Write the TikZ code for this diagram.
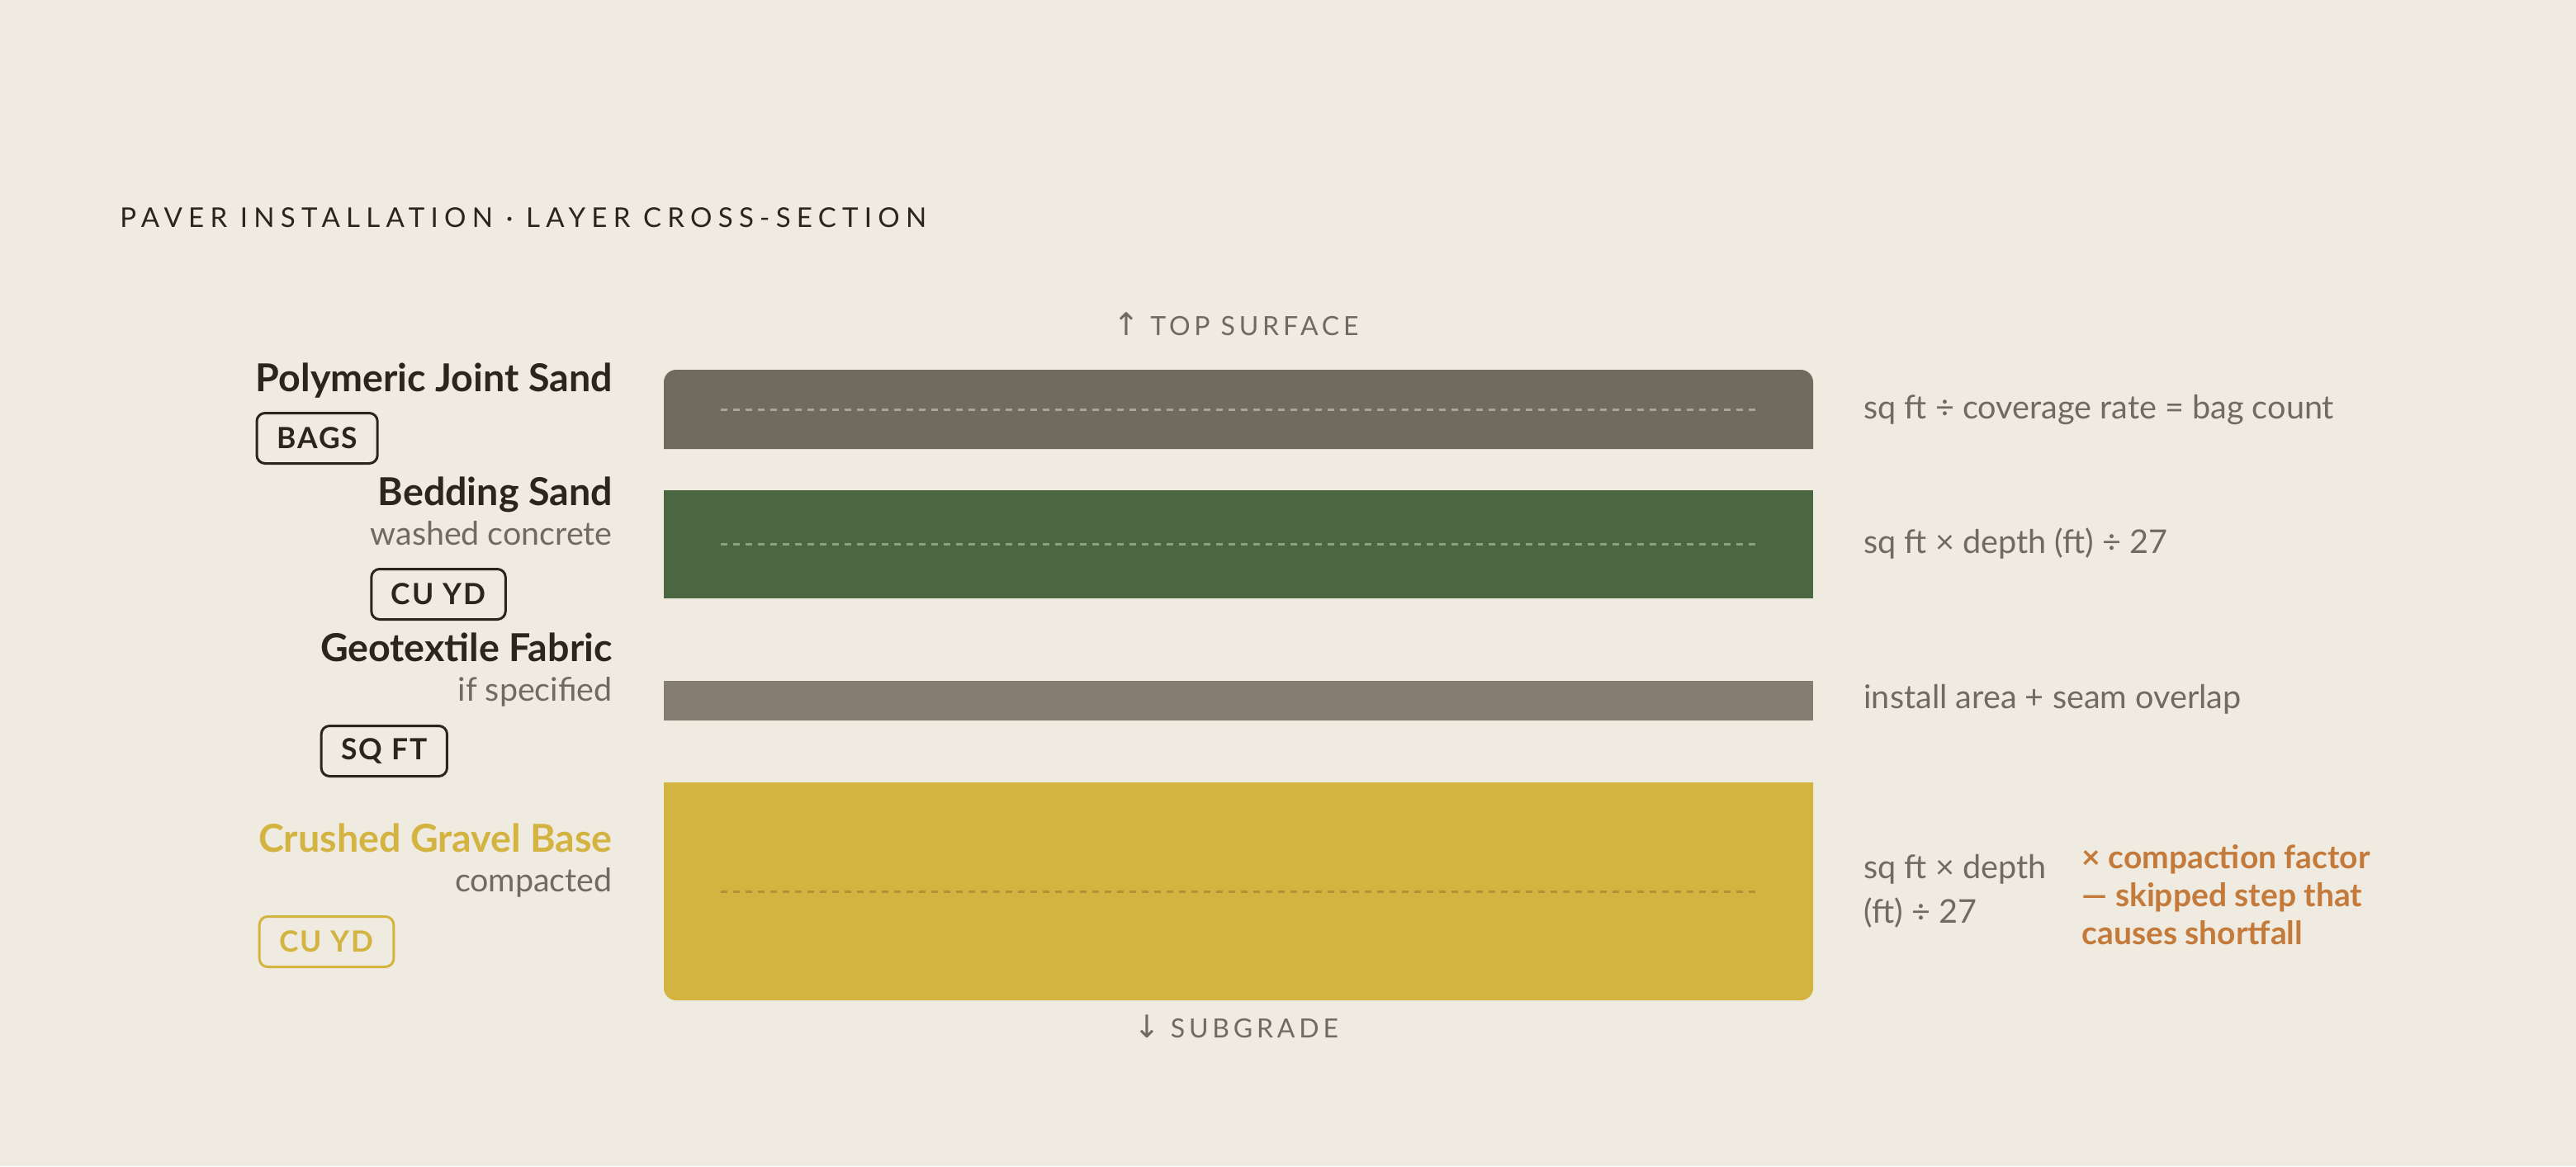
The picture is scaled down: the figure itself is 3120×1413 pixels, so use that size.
\documentclass[tikz,border=0pt]{standalone}
\usepackage{fontspec}
\setmainfont{Lato}
\newfontfamily\arrowfont{DejaVu Sans}
\usetikzlibrary{calc}
\definecolor{bg}{HTML}{EFEBE1}
\definecolor{ink}{HTML}{2B251D}
\definecolor{muted}{HTML}{6F6B60}
\definecolor{topbar}{HTML}{716A5E}
\definecolor{greenbar}{HTML}{4A6741}
\definecolor{fabric}{HTML}{857D71}
\definecolor{gravel}{HTML}{D4B441}
\definecolor{dashtop}{HTML}{ACA495}
\definecolor{dashgreen}{HTML}{8CA083}
\definecolor{dashgravel}{HTML}{AE9436}
\definecolor{warn}{HTML}{C47A3A}
\tikzset{
  lbl/.style={anchor=base east, inner sep=0pt, text=ink, font=\bfseries\fontsize{23.3}{28}\selectfont},
  sublbl/.style={anchor=base east, inner sep=0pt, text=muted, font=\fontsize{19.7}{24}\selectfont},
  badge/.style={anchor=north west, draw=ink, text=ink, line width=1.5pt, rounded corners=5pt,
    minimum height=30.5pt, inner xsep=12pt, inner ysep=0pt,
    font=\bfseries\addfontfeature{LetterSpace=6}\fontsize{17.7}{20}\selectfont},
  formula/.style={anchor=base west, inner sep=0pt, text=muted, font=\fontsize{19.8}{27}\selectfont, align=left},
  caption/.style={anchor=base, inner sep=0pt, text=muted, font=\addfontfeature{LetterSpace=15}\fontsize{16}{20}\selectfont},
  layerdash/.style={dash pattern=on 4pt off 3.5pt, line width=1.5pt}
}
\newcommand{\capArrow}[1]{{\arrowfont\fontsize{19}{20}\selectfont #1}}
\begin{document}
\begin{tikzpicture}[x=0.5pt,y=-0.5pt]
\fill[bg] (0,0) rectangle (3120,1413);
\useasboundingbox (0,0) rectangle (3120,1413);

% title
\node[anchor=base west, inner sep=0pt, text=ink, font=\addfontfeature{LetterSpace=22}\fontsize{16.5}{20}\selectfont] (title) at (145,275) {PAVER INSTALLATION · LAYER CROSS-SECTION};

% captions
\node[caption] (top) at (1497,406) {\capArrow{↑}\ TOP SURFACE};
\node[caption] (bottom) at (1497,1257) {\capArrow{↓}\ SUBGRADE};

% layers
\fill[topbar] (804,544) -- (804,463) arc[start angle=180, end angle=90, radius=7.5pt]
  -- (2181,448) arc[start angle=90, end angle=0, radius=7.5pt] -- (2196,544) -- cycle;
\draw[layerdash, dashtop] (873,496) -- (2126,496);
\fill[greenbar] (804,594) rectangle (2196,725);
\draw[layerdash, dashgreen] (873,659) -- (2126,659);
\fill[fabric] (804,825) rectangle (2196,873);
\fill[gravel] (804,948) -- (2196,948) -- (2196,1197) arc[start angle=0, end angle=-90, radius=7.5pt]
  -- (819,1212) arc[start angle=270, end angle=180, radius=7.5pt] -- cycle;
\draw[layerdash, dashgravel] (873,1080) -- (2126,1080);

% left labels
\node[lbl] (l1) at (742,474) {Polymeric Joint Sand};
\path let \p1=(l1.west), \p3=(0,499) in node[badge] (b1) at (\x1,\y3) {BAGS};

\node[lbl] (l2) at (742,612) {Bedding Sand};
\node[sublbl] (s2) at (742,660) {washed concrete};
\path let \p1=(l2.west), \p2=(s2.west), \p3=(0,688) in node[badge] (b2) at ({min(\x1,\x2)*1pt},\y3) {CU YD};

\node[lbl] (l3) at (742,801) {Geotextile Fabric};
\node[sublbl] (s3) at (742,849) {if specified};
\path let \p1=(l3.west), \p2=(s3.west), \p3=(0,878) in node[badge] (b3) at ({min(\x1,\x2)*1pt},\y3) {SQ FT};

\node[lbl, text=gravel] (l4) at (742,1032) {Crushed Gravel Base};
\node[sublbl] (s4) at (742,1080) {compacted};
\path let \p1=(l4.west), \p2=(s4.west), \p3=(0,1109) in node[badge, draw=gravel, text=gravel] (b4) at ({min(\x1,\x2)*1pt},\y3) {CU YD};

% right formulas (multi-line nodes: base anchor = last line)
\node[formula] (f1) at (2257,507) {sq ft ÷ coverage rate = bag count};
\node[formula] (f2) at (2257,670) {sq ft × depth (ft) ÷ 27};
\node[formula] (f3) at (2257,858) {install area + seam overlap};
\node[formula] (f4) at (2257,1118) {sq ft × depth\\(ft) ÷ 27};
\node[formula, text=warn, font=\bfseries\fontsize{19.5}{23}\selectfont] (note) at (2521,1144) {× compaction factor\\— skipped step that\\causes shortfall};
\end{tikzpicture}
\end{document}
